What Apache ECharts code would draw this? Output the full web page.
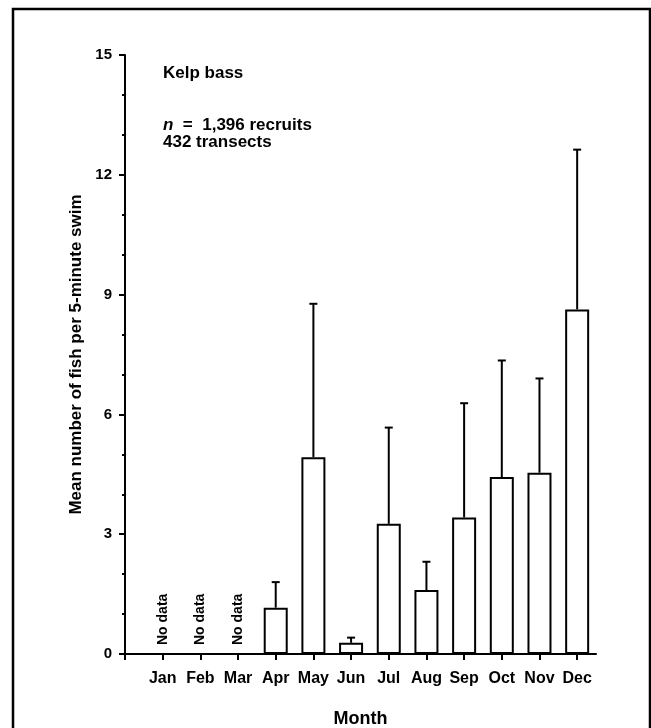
<!DOCTYPE html>
<html>
<head>
<meta charset="utf-8">
<script src="https://cdn.jsdelivr.net/npm/echarts@6/dist/echarts.min.js"></script>
<style>html,body{margin:0;padding:0;background:#fff}#c{width:651px;height:728px}</style>
</head>
<body>
<div id="c"></div>
<script>
const months = ['Jan','Feb','Mar','Apr','May','Jun','Jul','Aug','Sep','Oct','Nov','Dec'];
const meanFish = [null,null,null,1.16,4.93,0.28,3.26,1.60,3.42,4.43,4.54,8.63];
const upperError = [null,null,null,1.80,8.77,0.41,5.67,2.31,6.28,7.35,6.90,12.63];
const noDataMonths = ['Jan','Feb','Mar'];
const yTicks = [0,3,6,9,12,15];
const xTickPositions = [-1,0,1,2,3,4,5,6,7,8,9,10,11];

const FONT = '"Liberation Sans", Arial, sans-serif';
const chart = echarts.init(document.getElementById('c'), null, {renderer:'canvas'});

const barData = [];
const errData = [];
months.forEach((m,i)=>{
  if (meanFish[i] != null) {
    barData.push([i, meanFish[i]]);
    errData.push([i, meanFish[i], upperError[i]]);
  }
});
const noData = noDataMonths.map(m => [months.indexOf(m), 0]);

const txt = (size) => ({fontFamily:FONT, fontSize:size, fontWeight:'bold', color:'#000'});

chart.setOption({
  animation:false,
  backgroundColor:'#fff',
  grid:{left:125, right:55, top:55, bottom:74, containLabel:false, outerBoundsMode:'none'},
  xAxis:{
    type:'value', min:-1, max:11.5, interval:1,
    name:'Month', nameLocation:'middle', nameGap:56,
    nameTextStyle:txt(18),
    splitLine:{show:false},
    axisLine:{onZero:false, lineStyle:{color:'#000', width:2}},
    axisTick:{customValues:xTickPositions, length:6, lineStyle:{color:'#000', width:2}},
    axisLabel:Object.assign({customValues:months.map((m,i)=>i), formatter:v=>months[Math.round(v)]||'', margin:17}, txt(16))
  },
  yAxis:{
    type:'value', min:0, max:15, interval:3,
    name:'Mean number of fish per 5-minute swim', nameLocation:'middle', nameGap:38,
    nameTextStyle:txt(17),
    splitLine:{show:false},
    axisLine:{onZero:false, lineStyle:{color:'#000', width:2}},
    axisTick:{length:6, lineStyle:{color:'#000', width:2}},
    minorTick:{show:true, splitNumber:3, length:3, lineStyle:{color:'#000', width:2}},
    axisLabel:Object.assign({margin:13, customValues:yTicks}, txt(15))
  },
  series:[
    {
      type:'custom',
      name:'error',
      data:errData,
      z:1,
      renderItem:(params, api)=>{
        const x = api.value(0);
        const top = api.coord([x, api.value(2)]);
        const base = api.coord([x, api.value(1)]);
        const cw = 4;
        return {type:'group', children:[
          {type:'line', shape:{x1:top[0], y1:base[1], x2:top[0], y2:top[1]}, style:{stroke:'#000', lineWidth:2}},
          {type:'line', shape:{x1:top[0]-cw, y1:top[1], x2:top[0]+cw, y2:top[1]}, style:{stroke:'#000', lineWidth:2}}
        ]};
      }
    },
    {
      type:'bar',
      data:barData,
      barWidth:24,
      z:2,
      itemStyle:{color:'#fff', borderColor:'#000', borderWidth:2}
    },
    {
      type:'custom',
      data:noData,
      renderItem:(params, api)=>{
        const p = api.coord([api.value(0), api.value(1)]);
        return {type:'text', x:p[0], y:p[1]-9, rotation:Math.PI/2,
          style:{text:'No data', fontFamily:FONT, fontSize:14, fontWeight:'bold', fill:'#000', align:'left', verticalAlign:'middle'}};
      }
    }
  ],
  graphic:[
    {type:'rect', shape:{x:13, y:9, width:637, height:760}, style:{fill:'none', stroke:'#000', lineWidth:2.5}, silent:true},
    {type:'text', left:163, top:65, style:{text:'Kelp bass', fontFamily:FONT, fontSize:17, fontWeight:'bold', fill:'#000'}},
    {type:'text', left:163, top:117, style:{rich:{i:{fontStyle:'italic', fontWeight:'bold', fontFamily:FONT, fontSize:17, fill:'#000'}, r:{fontFamily:FONT, fontWeight:'bold', fontSize:17, fill:'#000'}}, text:'{i|n}{r|  =  1,396 recruits}', fontFamily:FONT, fontSize:17}},
    {type:'text', left:163, top:134, style:{text:'432 transects', fontFamily:FONT, fontSize:17, fontWeight:'bold', fill:'#000'}}
  ]
});
</script>
</body>
</html>
